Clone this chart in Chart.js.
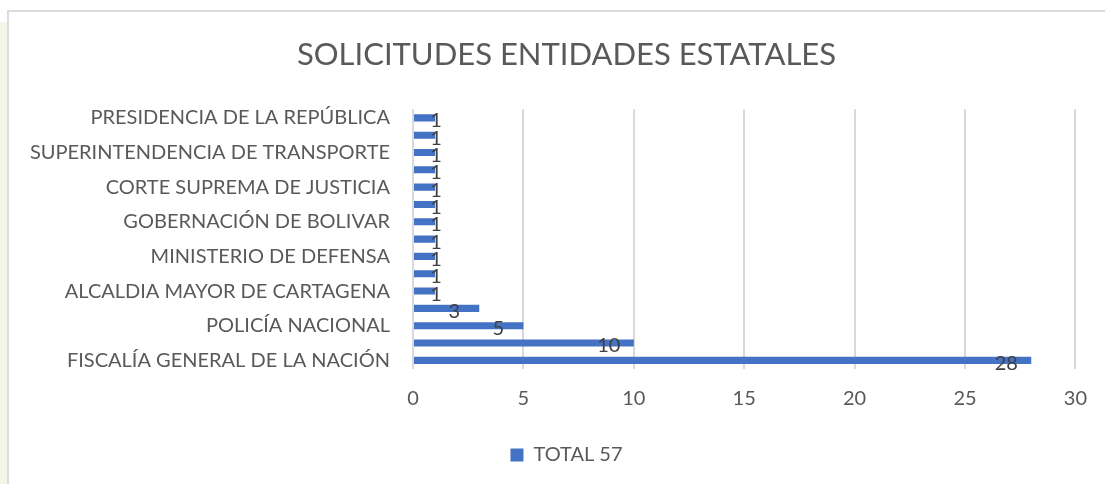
<!DOCTYPE html>
<html>
<head>
<meta charset="utf-8">
<script src="https://cdn.jsdelivr.net/npm/chart.js@4/dist/chart.umd.min.js"></script>
<style>
    html, body { margin:0; padding:0; background:#fff; }
    #wrap { position:relative; width:1105px; height:484px; overflow:hidden; }
    /* franja verde clara a la izquierda y borde del grafico */
    #strip { position:absolute; left:0; top:22px; width:7px; height:470px; background:#f3f7e9; }
    #frame { position:absolute; left:7px; top:10px; width:1110px; height:490px; border:2px solid #dcdcdc; box-sizing:border-box; }
    #c { position:absolute; left:0; top:0; }
</style>
</head>
<body>
<div id="wrap">
    <div id="strip"></div>
    <div id="frame"></div>
    <canvas id="c" width="1105" height="484"></canvas>
</div>
<script>
// =========================================
// Datos
// =========================================
const categories = [
    'PRESIDENCIA DE LA REPÚBLICA', '',
    'SUPERINTENDENCIA DE TRANSPORTE', '',
    'CORTE SUPREMA DE JUSTICIA', '',
    'GOBERNACIÓN DE BOLIVAR', '',
    'MINISTERIO DE DEFENSA', '',
    'ALCALDIA MAYOR DE CARTAGENA', '',
    'POLICÍA NACIONAL', '',
    'FISCALÍA GENERAL DE LA NACIÓN'
];
const totals = [1, 1, 1, 1, 1, 1, 1, 1, 1, 1, 1, 3, 5, 10, 28];
const xTicks = [0, 5, 10, 15, 20, 25, 30];
const seriesName = 'TOTAL 57';
const chartTitle = 'SOLICITUDES ENTIDADES ESTATALES';

const FONT = 'Lato, "Open Sans", sans-serif';
const GREY = '#595959';
const BLUE = '#4472c4';

// etiquetas de valor tipo Excel (extremo interno)
const valueLabels = {
    id: 'valueLabels',
    afterDatasetsDraw(chart) {
        const ctx = chart.ctx;
        const meta = chart.getDatasetMeta(0);
        const x0 = chart.scales.x.getPixelForValue(0);
        ctx.save();
        ctx.font = '20px ' + FONT;
        ctx.fillStyle = '#404040';
        ctx.textAlign = 'center';
        ctx.textBaseline = 'middle';
        meta.data.forEach((bar, i) => {
            const len = bar.x - x0;
            const cx = len > 40 ? bar.x - 25 : bar.x + 1;
            ctx.fillText(String(totals[i]), cx, bar.y + 3);
        });
        ctx.restore();
    }
};

new Chart(document.getElementById('c'), {
    type: 'bar',
    data: {
        labels: categories,
        datasets: [{
            label: seriesName,
            data: totals,
            backgroundColor: BLUE,
            borderWidth: 0,
            barPercentage: 0.82,
            categoryPercentage: 0.5
        }]
    },
    options: {
        indexAxis: 'y',
        responsive: false,
        animation: false,
        layout: { padding: { left: 52, right: 24, top: 36, bottom: 9 } },
        scales: {
            x: {
                min: 0, max: 30,
                afterBuildTicks: (s) => { s.ticks = xTicks.map(v => ({ value: v })); },
                grid: { color: '#d9d9d9', lineWidth: 2, drawTicks: false },
                border: { display: false },
                ticks: { color: GREY, font: { family: FONT, size: 20 }, padding: 18 }
            },
            y: {
                grid: { display: false, drawTicks: false },
                border: { display: false },
                ticks: { autoSkip: false, color: GREY, font: { family: FONT, size: 20 }, padding: 23 },
                afterFit: (s) => {
                    s.width = 361;
                    // las etiquetas largas salen del eje; no recortarlas
                    s._computeLabelArea = () => undefined;
                }
            }
        },
        plugins: {
            title: {
                display: true,
                text: chartTitle,
                color: GREY,
                font: { family: FONT, size: 31, weight: 'normal' },
                padding: { top: 0, bottom: 36 }
            },
            legend: {
                position: 'bottom',
                labels: {
                    color: GREY,
                    font: { family: FONT, size: 20 },
                    boxWidth: 13, boxHeight: 13,
                    padding: 16
                }
            },
            tooltip: { enabled: false }
        }
    },
    plugins: [valueLabels]
});
</script>
</body>
</html>
